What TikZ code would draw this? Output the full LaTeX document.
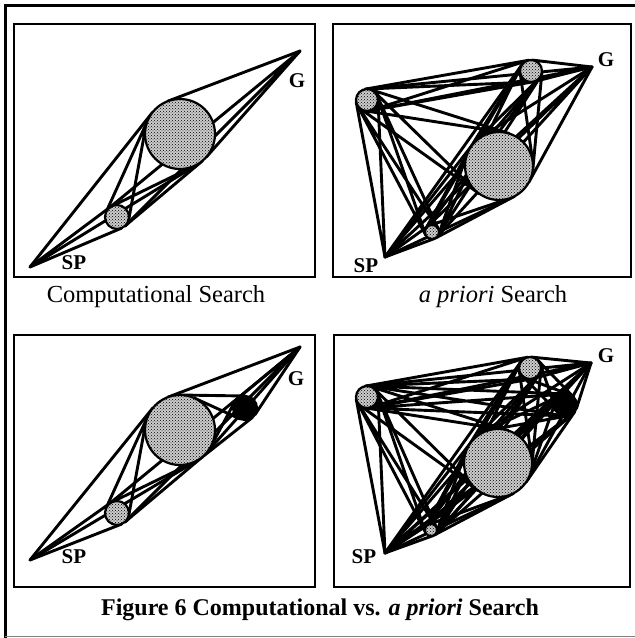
\documentclass[tikz,border=0pt]{standalone}
\usepackage{fontspec}
\setmainfont{Liberation Serif}
\usetikzlibrary{calc,patterns,backgrounds}

% the four tangent lines between two circles (radius 0 for a point)
\newcommand\tanlines[4]{%
  \draw[edge] let \p1=(#1.center), \p2=(#3.center),
      \n1={atan2(\y2-\y1,\x2-\x1)},
      \n2={veclen(\x2-\x1,\y2-\y1)},
      \n3={acos((#2-#4)/\n2)},
      \n4={acos((#2+#4)/\n2)} in
    ($(#1.center)+(\n1+\n3:#2pt)$) -- ($(#3.center)+(\n1+\n3:#4pt)$)
    ($(#1.center)+(\n1-\n3:#2pt)$) -- ($(#3.center)+(\n1-\n3:#4pt)$)
    ($(#1.center)+(\n1+\n4:#2pt)$) -- ($(#3.center)+(\n1+\n4+180:#4pt)$)
    ($(#1.center)+(\n1-\n4:#2pt)$) -- ($(#3.center)+(\n1-\n4+180:#4pt)$);}

\begin{document}
\begin{tikzpicture}[x=1pt,y=-1pt,
    panel/.style={draw,line width=1.8pt},
    edge/.style={line width=2.9pt,line join=round,line cap=round},
    obst/.style={circle,draw,line width=2.2pt,inner sep=0pt,outer sep=0pt,
      fill=gray!40,postaction={pattern=crosshatch dots}},
    goal/.style={circle,draw,line width=2.2pt,inner sep=0pt,outer sep=0pt,fill=black},
    lbl/.style={font=\fontsize{21}{21}\selectfont\bfseries},
    captext/.style={font=\fontsize{24.5}{24.5}\selectfont}]
  \useasboundingbox (0,0) rectangle (635,638);

  % outer frame
  \draw[line width=3pt] (5,638) -- (5,5) -- (635,5);
  \draw[line width=0.8pt,gray] (5,636) -- (635,636);

  % panels
  \draw[panel] (14,24) rectangle (315,277);
  \draw[panel] (333,24) rectangle (631,277);
  \draw[panel] (14,335) rectangle (315,587);
  \draw[panel] (334,335) rectangle (630,587);

  % computational search
  \coordinate (sp1) at (30,267);
  \coordinate (g1) at (300,51);
  \node[obst,minimum size=70pt] (big1) at (180,134) {};
  \node[obst,minimum size=24pt] (sm1) at (117,217) {};
  \node[lbl] (sp1l) at (74,263) {SP};
  \node[lbl] (g1l) at (297,81) {G};

  % a priori search
  \coordinate (sp2) at (385,257);
  \coordinate (g2) at (592,67);
  \node[obst,minimum size=22pt] (lf2) at (367,100) {};
  \node[obst,minimum size=22pt] (tp2) at (531,71) {};
  \node[obst,minimum size=68pt] (big2) at (499,166) {};
  \node[obst,minimum size=14pt] (tn2) at (432,232) {};
  \node[lbl] (sp2l) at (366,266) {SP};
  \node[lbl] (g2l) at (606,60) {G};

  % computational search, new obstacle
  \coordinate (sp3) at (30,560);
  \coordinate (g3) at (300,347);
  \node[obst,minimum size=70pt] (big3) at (180,430) {};
  \node[obst,minimum size=24pt] (sm3) at (117,513) {};
  \node[goal,minimum size=24pt] (bk3) at (245,408) {};
  \node[lbl] (sp3l) at (74,557) {SP};
  \node[lbl] (g3l) at (296,379) {G};

  % a priori search, new obstacle
  \coordinate (sp4) at (385,553);
  \coordinate (g4) at (591,363);
  \node[obst,minimum size=22pt] (lf4) at (367,397) {};
  \node[obst,minimum size=22pt] (tp4) at (530,368) {};
  \node[obst,minimum size=68pt] (big4) at (498,463) {};
  \node[obst,minimum size=12pt] (tn4) at (431,530) {};
  \node[goal,minimum size=22pt] (bk4) at (566,405) {};
  \node[lbl] (sp4l) at (364,557) {SP};
  \node[lbl] (g4l) at (606,356) {G};

  \begin{scope}[on background layer]
    \foreach \a/\ra/\b/\rb in {sp1/0/big1/35, sp1/0/sm1/12, g1/0/big1/35,
        g1/0/sm1/12, sm1/12/big1/35}
      \tanlines{\a}{\ra}{\b}{\rb};
    \foreach \a/\ra/\b/\rb in {sp3/0/big3/35, sp3/0/sm3/12, g3/0/big3/35,
        g3/0/sm3/12, sm3/12/big3/35, g3/0/bk3/12, big3/35/bk3/12}
      \tanlines{\a}{\ra}{\b}{\rb};
    \foreach \a/\ra/\b/\rb in {sp2/0/g2/0, sp2/0/lf2/11, sp2/0/tp2/11,
        sp2/0/big2/34, sp2/0/tn2/7, g2/0/lf2/11, g2/0/tp2/11, g2/0/big2/34,
        g2/0/tn2/7, lf2/11/tp2/11, lf2/11/big2/34, lf2/11/tn2/7,
        tp2/11/big2/34, tp2/11/tn2/7, tn2/7/big2/34}
      \tanlines{\a}{\ra}{\b}{\rb};
    \foreach \a/\ra/\b/\rb in {sp4/0/g4/0, sp4/0/lf4/11, sp4/0/tp4/11,
        sp4/0/big4/34, sp4/0/tn4/6, g4/0/lf4/11, g4/0/tp4/11, g4/0/big4/34,
        g4/0/tn4/6, lf4/11/tp4/11, lf4/11/big4/34, lf4/11/tn4/6,
        tp4/11/big4/34, tp4/11/tn4/6, tn4/6/big4/34, sp4/0/bk4/11,
        g4/0/bk4/11, lf4/11/bk4/11, tp4/11/bk4/11, big4/34/bk4/11,
        tn4/6/bk4/11}
      \tanlines{\a}{\ra}{\b}{\rb};
  \end{scope}

  % captions
  \node[captext] (cap1) at (156,297) {Computational Search};
  \node[captext] (cap2) at (493,297) {\textit{a priori} Search};
  \node[captext,font=\fontsize{24}{24}\selectfont\bfseries] (fig) at (320,610)
    {Figure 6 Computational vs. \textit{a priori} Search};
\end{tikzpicture}
\end{document}
